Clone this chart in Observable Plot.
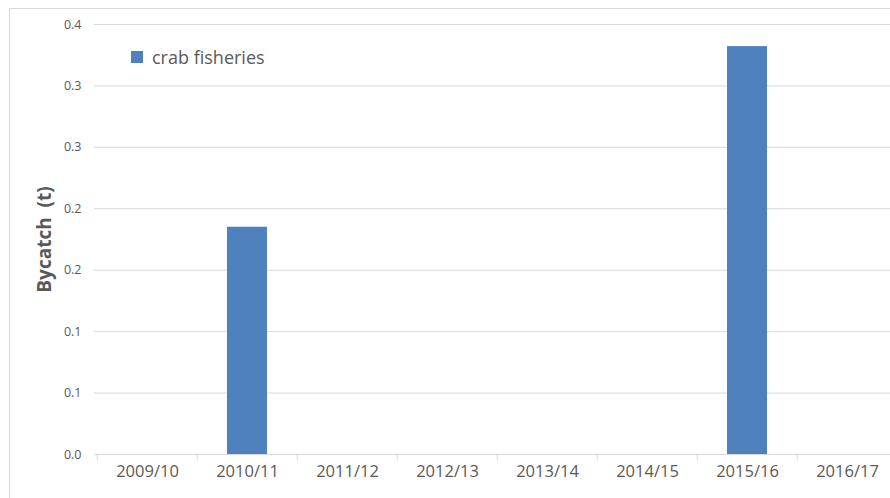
<!DOCTYPE html>
<html>
<head>
<meta charset="utf-8">
<script src="https://cdn.jsdelivr.net/npm/d3@7"></script>
<script src="https://cdn.jsdelivr.net/npm/@observablehq/plot@0.6"></script>
<style>
  html, body { margin: 0; padding: 0; background: #fff; }
  #wrap { position: relative; width: 890px; height: 498px; overflow: hidden; font-family: "Open Sans", sans-serif; }
  #border { position: absolute; left: 9px; top: 8px; width: 1000px; height: 600px; border: 1px solid #d9d9d9; box-sizing: border-box; }
  #chart { position: absolute; left: 0; top: 0; width: 899px; height: 498px; }
  #chart svg { max-width: none !important; }
  #legend { position: absolute; left: 131px; top: 40px; }
</style>
</head>
<body>
<div id="wrap">
  <div id="border"></div>
  <div id="chart"></div>
  <div id="legend"></div>
</div>
<script>
const seasons = ["2009/10","2010/11","2011/12","2012/13","2013/14","2014/15","2015/16","2016/17"];
const bycatch = [0, 0.185, 0, 0, 0, 0, 0.332, 0];
const seriesName = "crab fisheries";
const yTicks = [0, 0.05, 0.10, 0.15, 0.20, 0.25, 0.30, 0.35];
const yTickLabels = ["0.0","0.1","0.1","0.2","0.2","0.3","0.3","0.4"];
const yTitle = "Bycatch  (t)";

const data = seasons.map((s, i) => ({season: s, value: bycatch[i]})).filter(d => d.value > 0);

const W = 899, ML = 94, MR = 0, MT = 24, MB = 44;
const step = (W - ML - MR) / seasons.length;
const blue = "#4f81bd";
const textGray = "#595959";

const chart = Plot.plot({
  width: W,
  height: 498,
  marginLeft: ML,
  marginRight: MR,
  marginTop: MT,
  marginBottom: MB,
  style: {fontFamily: "Open Sans, sans-serif", background: "transparent", overflow: "visible", maxWidth: "none"},
  x: {domain: seasons, paddingInner: 0.6, paddingOuter: 0.3, align: 0.5},
  y: {domain: [0, 0.35]},
  marks: [
    Plot.gridY(yTicks, {stroke: "#d9d9d9", strokeOpacity: 1}),
    Plot.axisX({tickSize: 6, dx: -step / 2, tickFormat: () => "", stroke: "#d9d9d9", strokeOpacity: 1, label: null}),
    Plot.axisX({tickSize: 0, tickPadding: 11, fontSize: 16.5, fill: textGray, label: null}),
    Plot.axisY({ticks: yTicks, tickSize: 0, tickPadding: 13, fontSize: 12.5, fill: textGray,
      tickFormat: (d) => yTickLabels[yTicks.indexOf(d)], label: null}),
    Plot.barY(data, {x: "season", y: "value", fill: blue}),
    Plot.text([yTitle], {frameAnchor: "left", textAnchor: "middle", rotate: -90, dx: -50, fontSize: 19, fontWeight: "bold", fill: textGray})
  ]
});
document.getElementById("chart").appendChild(chart);

const legend = Plot.legend({
  color: {domain: [seriesName], range: [blue]},
  swatchSize: 12,
  style: {fontFamily: "Open Sans, sans-serif", fontSize: "18px", color: textGray}
});
document.getElementById("legend").appendChild(legend);
</script>
</body>
</html>
